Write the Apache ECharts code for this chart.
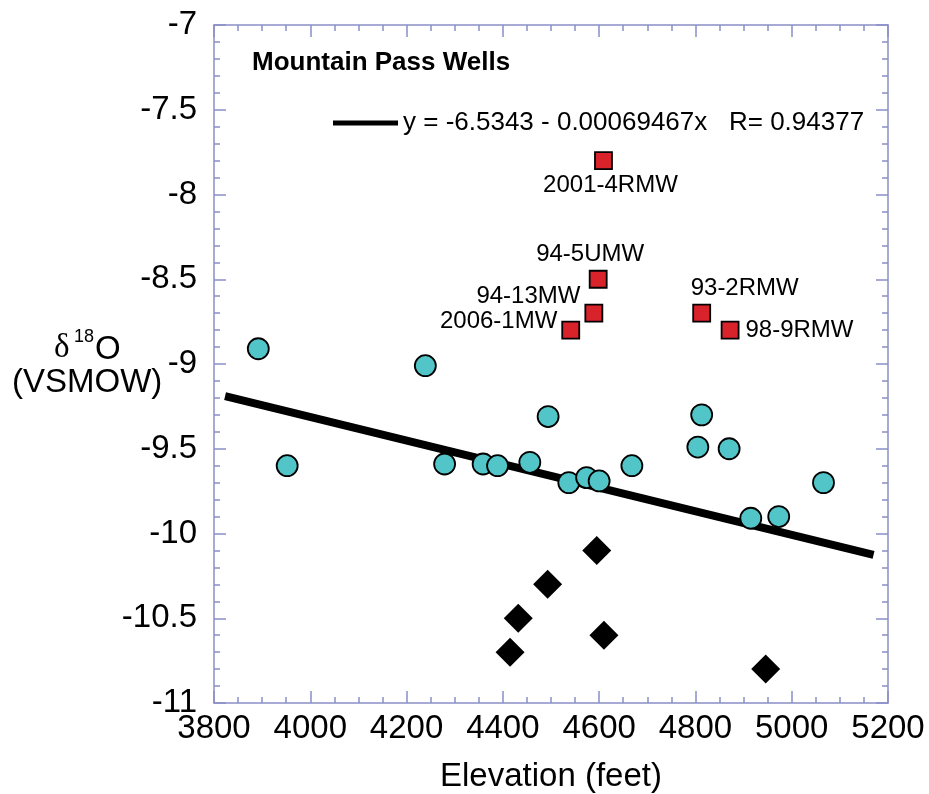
<!DOCTYPE html>
<html>
<head>
<meta charset="utf-8">
<title>Mountain Pass Wells</title>
<script src="https://cdn.jsdelivr.net/npm/echarts@6/dist/echarts.min.js"></script>
<style>
    html, body { margin: 0; padding: 0; background: #fff; }
    #main { width: 929px; height: 794px; }
</style>
</head>
<body>
<div id="main"></div>
<script>
// well data: elevation (feet) and d18O (VSMOW)
var wellElev = [3892, 3952, 4239, 4279, 4359, 4389, 4456, 4494, 4537, 4574, 4600, 4668, 4805, 4813, 4870, 4915, 4973, 5066];
var wellO18  = [-8.91, -9.60, -9.01, -9.59, -9.59, -9.60, -9.58, -9.31, -9.70, -9.67, -9.69, -9.60, -9.49, -9.30, -9.50, -9.91, -9.90, -9.70];

var namedElev  = [4609, 4598, 4589, 4541, 4813, 4872];
var namedO18   = [-7.80, -8.50, -8.70, -8.80, -8.70, -8.80];
var namedWells = ['2001-4RMW', '94-5UMW', '94-13MW', '2006-1MW', '93-2RMW', '98-9RMW'];

var springElev = [4415, 4432, 4493, 4595, 4610, 4946];
var springO18  = [-10.70, -10.50, -10.30, -10.10, -10.60, -10.80];

// fitted line y = a + b*x
var fitA = -6.5343;
var fitB = -0.00069467;
var fitR = 0.94377;
var fitX = [3823, 5170];

var xTicks = [3800, 5200, 200];
var yTicks = [-11, -7, 0.5];

var FONT = '"Liberation Sans", Arial, Helvetica, sans-serif';
var AXIS_COLOR = '#8a8fc6';

// label placement for the named wells (separate from data)
var namedLabel = [
    { position: 'bottom', distance: 3, offset: [7, 0] },
    { position: 'top', distance: 3, offset: [-8, 0] },
    { position: 'left', distance: 4, offset: [0, -17] },
    { position: 'left', distance: 4, offset: [0, -9] },
    { position: 'top', distance: 3, offset: [43, 0] },
    { position: 'right', distance: 6, offset: [0, 0] }
];

var fitName = 'y = ' + fitA + ' - ' + Math.abs(fitB).toFixed(8) + 'x   R= ' + fitR;

var myChart = echarts.init(document.getElementById('main'));

function xAx(pos, labels) {
    return {
        type: 'value',
        position: pos,
        min: xTicks[0],
        max: xTicks[1],
        interval: xTicks[2],
        axisLine: { show: true, onZero: false, lineStyle: { color: AXIS_COLOR, width: 1.5 } },
        axisTick: { show: true, inside: true, length: 12, lineStyle: { color: AXIS_COLOR, width: 1.5 } },
        minorTick: { show: true, splitNumber: 4, length: 6, lineStyle: { color: AXIS_COLOR, width: 1.5 } },
        splitLine: { show: false },
        axisLabel: {
            show: labels, margin: 9, color: '#000', fontSize: 33, fontFamily: FONT,
            formatter: function (v) { return String(v); }
        },
        name: labels ? 'Elevation (feet)' : '',
        nameLocation: 'middle',
        nameGap: 57,
        nameTextStyle: { color: '#000', fontSize: 33, fontFamily: FONT }
    };
}

function yAx(pos, labels) {
    return {
        type: 'value',
        position: pos,
        min: yTicks[0],
        max: yTicks[1],
        interval: yTicks[2],
        axisLine: { show: true, onZero: false, lineStyle: { color: AXIS_COLOR, width: 1.5 } },
        axisTick: { show: true, inside: true, length: 12, lineStyle: { color: AXIS_COLOR, width: 1.5 } },
        minorTick: { show: true, splitNumber: 5, length: 6, lineStyle: { color: AXIS_COLOR, width: 1.5 } },
        splitLine: { show: false },
        axisLabel: { show: labels, margin: 17, color: '#000', fontSize: 33, fontFamily: FONT }
    };
}

var option = {
    backgroundColor: '#fff',
    animation: false,
    grid: {
        left: 214,
        right: 41,
        top: 25,
        bottom: 91,
        outerBoundsMode: 'none'
    },
    legend: {
        left: 328,
        top: 105,
        itemWidth: 65,
        itemHeight: 5,
        itemGap: 0,
        selectedMode: false,
        textStyle: { color: '#000', fontSize: 26, fontFamily: FONT },
        data: [{ name: fitName, icon: 'rect' }]
    },
    graphic: [
        {
            type: 'text', left: 252, top: 50,
            style: { text: 'Mountain Pass Wells', fill: '#000', font: 'bold 26px ' + FONT }
        },
        {
            type: 'text', left: 54, top: 332,
            style: { text: 'δ', fill: '#000', font: '33px "Liberation Serif", "DejaVu Serif", serif' }
        },
        {
            type: 'text', left: 74, top: 328,
            style: { text: '18', fill: '#000', font: '18px ' + FONT }
        },
        {
            type: 'text', left: 95, top: 333,
            style: { text: 'O', fill: '#000', font: '33px ' + FONT }
        },
        {
            type: 'text', left: 12, top: 366,
            style: { text: '(VSMOW)', fill: '#000', font: '33px ' + FONT }
        }
    ],
    xAxis: [xAx('bottom', true), xAx('top', false)],
    yAxis: [yAx('left', true), yAx('right', false)],
    series: [
        {
            name: fitName,
            type: 'line',
            xAxisIndex: 0,
            yAxisIndex: 0,
            symbol: 'none',
            z: 1,
            color: '#000',
            lineStyle: { color: '#000', width: 8 },
            data: fitX.map(function (x) { return [x, fitA + fitB * x]; })
        },
        {
            name: 'wells',
            type: 'scatter',
            symbol: 'circle',
            symbolSize: 21,
            z: 3,
            itemStyle: { color: '#52c5c8', borderColor: '#000', borderWidth: 1.8, opacity: 1 },
            data: wellElev.map(function (x, i) { return [x, wellO18[i]]; })
        },
        {
            name: 'named',
            type: 'scatter',
            symbol: 'rect',
            symbolSize: 17,
            z: 3,
            itemStyle: { color: '#d9232b', borderColor: '#000', borderWidth: 1.8, opacity: 1 },
            label: { show: true, color: '#000', fontSize: 24, fontFamily: FONT, formatter: '{b}' },
            data: namedElev.map(function (x, i) {
                return {
                    name: namedWells[i],
                    value: [x, namedO18[i]],
                    label: namedLabel[i]
                };
            })
        },
        {
            name: 'springs',
            type: 'scatter',
            symbol: 'diamond',
            symbolSize: 29,
            z: 3,
            itemStyle: { color: '#000', opacity: 1 },
            data: springElev.map(function (x, i) { return [x, springO18[i]]; })
        }
    ]
};

myChart.setOption(option);
</script>
</body>
</html>
